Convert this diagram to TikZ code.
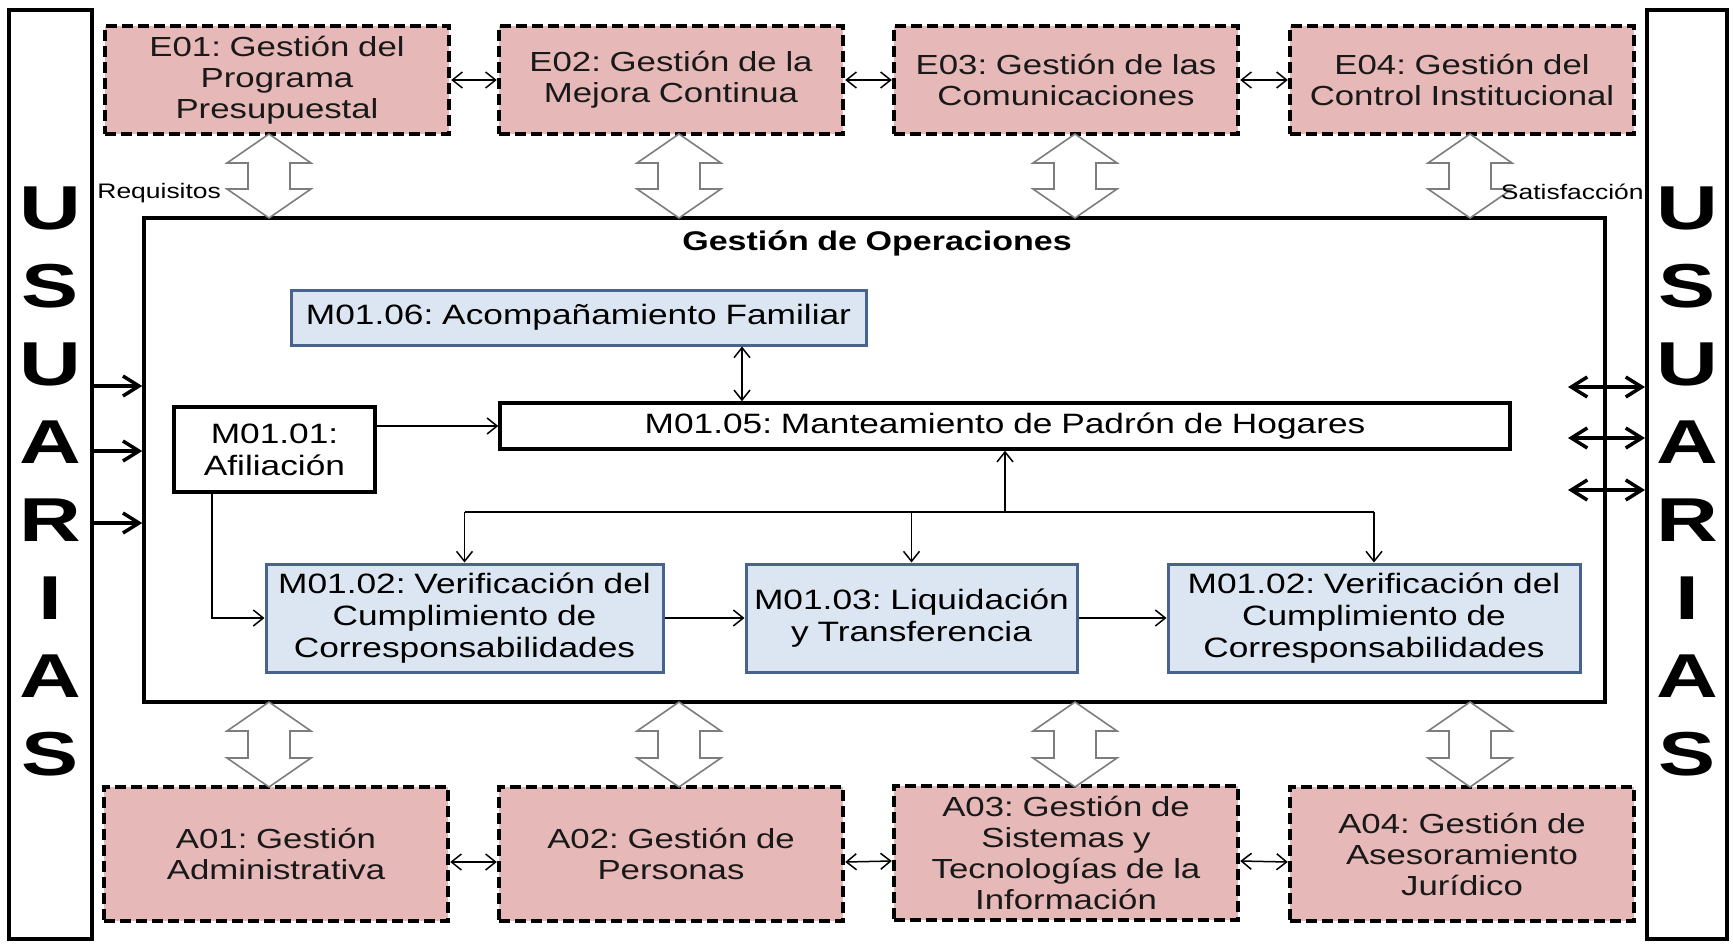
\documentclass[tikz,border=0pt]{standalone}
\usepackage{fontspec}
\setmainfont{Liberation Sans}[FakeStretch=1.26, WordSpace=0.9]
\newfontfamily\usfont{Liberation Sans}[FakeStretch=1.38]
\frenchspacing
\usetikzlibrary{arrows.meta,calc}
\definecolor{pinkfill}{RGB}{230,185,184}
\definecolor{bluefill}{RGB}{220,230,242}
\definecolor{blueline}{RGB}{72,100,140}
\definecolor{blockgray}{RGB}{125,125,125}
\newcommand{\blockarrow}[3]{%
  \draw[blockline] (#1,#2) -- ({#1+42},{#2+29}) -- ({#1+21},{#2+29}) -- ({#1+21},{#3-29}) -- ({#1+42},{#3-29}) -- (#1,#3) -- ({#1-42},{#3-29}) -- ({#1-21},{#3-29}) -- ({#1-21},{#2+29}) -- ({#1-42},{#2+29}) -- cycle;}
\begin{document}
\begin{tikzpicture}[x=0.5pt,y=-0.5pt,
  every node/.style={inner sep=0pt},
  ebox/.style={draw=black, line width=2.2pt, dash pattern=on 5.5pt off 2.5pt, fill=pinkfill,
    minimum width=172pt, align=center, text=black!90, font=\fontsize{13.8pt}{15.5pt}\selectfont},
  mbox/.style={draw=blueline, line width=1.5pt, fill=bluefill, align=center, font=\fontsize{14pt}{16pt}\selectfont},
  wbox/.style={draw=black, line width=1.75pt, fill=white, align=center, font=\fontsize{14pt}{16pt}\selectfont},
  usbox/.style={draw=black, line width=2pt, minimum width=41.5pt, minimum height=464.5pt},
  usl/.style={font=\usfont\fontsize{31pt}{31pt}\selectfont\bfseries},
  lnk/.style={line width=0.75pt, -{Straight Barb[length=5pt,width=8pt]}},
  lnktwo/.style={line width=0.75pt, {Straight Barb[length=5pt,width=8pt]}-{Straight Barb[length=5pt,width=8pt]}},
  plain/.style={line width=0.75pt},
  fat/.style={line width=1.75pt, -{Straight Barb[length=8pt,width=10pt]}},
  fattwo/.style={line width=1.75pt, {Straight Barb[length=8pt,width=10pt]}-{Straight Barb[length=8pt,width=10pt]}},
  blockline/.style={draw=blockgray, line width=0.8pt, fill=white},
  lbl/.style={font=\fontsize{10.5pt}{12pt}\selectfont}
]
\useasboundingbox (0,0) rectangle (1733,947);
\fill[white] (0,0) rectangle (1733,947);

% USUARIAS columns
\node[usbox] (usL) at (50.5,474.5) {};
\node[usbox, minimum width=40pt] (usR) at (1687,474.5) {};
\foreach \k/\ch in {0/U,1/S,2/U,3/A,4/R,5/I,6/A,7/S}{
  \node[usl] (ul\k) at (50.5,{208+78*\k}) {\ch};
  \node[usl] (ur\k) at (1687,{208+78*\k}) {\ch};
}

% strategic processes
\node[ebox, minimum height=54pt] (e1) at (277,80) {E01: Gestión del\\Programa\\Presupuestal};
\node[ebox, minimum height=54pt] (e2) at (671,80) {E02: Gestión de la\\Mejora Continua};
\node[ebox, minimum height=54pt] (e3) at (1066,80) {E03: Gestión de las\\Comunicaciones};
\node[ebox, minimum height=54pt] (e4) at (1462,80) {E04: Gestión del\\Control Institucional};
\draw[lnktwo] (e1.east) -- (e2.west);
\draw[lnktwo] (e2.east) -- (e3.west);
\draw[lnktwo] (e3.east) -- (e4.west);

% support processes
\node[ebox, minimum height=67pt] (a1) at (276,854) {A01: Gestión\\Administrativa};
\node[ebox, minimum height=67pt] (a2) at (671,854) {A02: Gestión de\\Personas};
\node[ebox, minimum height=67pt] (a3) at (1066,853) {A03: Gestión de\\Sistemas y\\Tecnologías de la\\Información};
\node[ebox, minimum height=67pt] (a4) at (1462,854) {A04: Gestión de\\Asesoramiento\\Jurídico};
\draw[lnktwo] ([yshift=-4pt]a1.east) -- ([yshift=-4pt]a2.west);
\draw[lnktwo] ([yshift=-4pt]a2.east) -- ([yshift=-4pt]a3.west);
\draw[lnktwo] ([yshift=-4pt]a3.east) -- ([yshift=-4pt]a4.west);

% operations box
\node[draw=black, line width=1.75pt, minimum width=730.5pt, minimum height=242pt] (main) at (874.5,460) {};
\node[font=\fontsize{13.5pt}{15pt}\selectfont\bfseries] (ops) at (877,243) {Gestión de Operaciones};

% block arrows
\blockarrow{269}{134}{218}
\blockarrow{679}{134}{218}
\blockarrow{1075}{134}{218}
\blockarrow{1470}{134}{218}
\blockarrow{269}{702}{787}
\blockarrow{679}{702}{787}
\blockarrow{1075}{702}{787}
\blockarrow{1470}{702}{787}

\node[lbl, anchor=west] (req) at (97,193) {Requisitos};
\node[lbl, anchor=east] (sat) at (1644,192) {Satisfacción};

% inner processes
\node[mbox, minimum width=287.5pt, minimum height=27.5pt] (m06) at (578.5,317.5) {M01.06: Acompañamiento Familiar};
\node[wbox, minimum width=100.5pt, minimum height=42.5pt] (m01) at (274.5,449.5) {M01.01:\\Afiliación};
\node[wbox, minimum width=505pt, minimum height=23pt] (m05) at (1005,426) {M01.05: Manteamiento de Padrón de Hogares};
\node[mbox, minimum width=198.5pt, minimum height=54pt] (m02a) at (464.5,618) {M01.02: Verificación del\\Cumplimiento de\\Corresponsabilidades};
\node[mbox, minimum width=165.5pt, minimum height=54pt] (m03) at (911.5,618) {M01.03: Liquidación\\y Transferencia};
\node[mbox, minimum width=206pt, minimum height=54pt] (m02b) at (1374,618) {M01.02: Verificación del\\Cumplimiento de\\Corresponsabilidades};

\coordinate (c06) at (742,0);
\coordinate (c01) at (212,0);
\coordinate (jn) at (1005,512);
\draw[lnktwo] (m06.south -| c06) -- (m05.north -| c06);
\draw[lnk] (m01.east |- m05.west) -- (m05.west);
\draw[lnk] (m01.south -| c01) |- (m02a.west);
\draw[lnk] (jn) -- (m05.south);
\draw[plain] (m02a.north |- jn) -- (m02b.north |- jn);
\draw[lnk] (m02a.north |- jn) -- (m02a.north);
\draw[lnk] (m03.north |- jn) -- (m03.north);
\draw[lnk] (m02b.north |- jn) -- (m02b.north);
\draw[lnk] (m02a.east) -- (m03.west);
\draw[lnk] (m03.east) -- (m02b.west);

% user arrows
\coordinate (ly1) at (0,386);
\coordinate (ly2) at (0,451);
\coordinate (ly3) at (0,523);
\draw[fat] (usL.east |- ly1) -- (main.west |- ly1);
\draw[fat] (usL.east |- ly2) -- (main.west |- ly2);
\draw[fat] (usL.east |- ly3) -- (main.west |- ly3);
\coordinate (ry1) at (1568,387);
\coordinate (ry2) at (1568,438);
\coordinate (ry3) at (1568,490);
\draw[fattwo] (ry1) -- (usR.west |- ry1);
\draw[fattwo] (ry2) -- (usR.west |- ry2);
\draw[fattwo] (ry3) -- (usR.west |- ry3);
\end{tikzpicture}
\end{document}
